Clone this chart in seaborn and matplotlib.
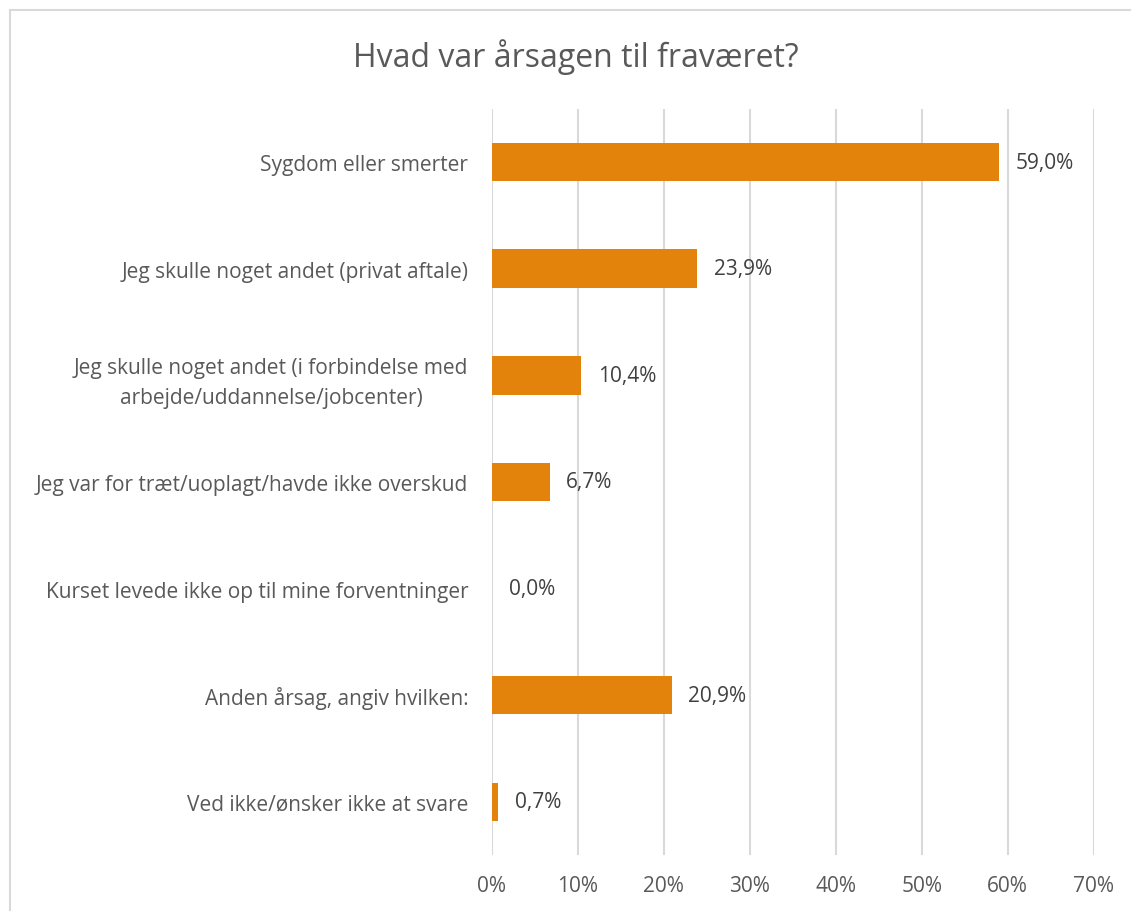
import matplotlib
matplotlib.use("Agg")
import matplotlib.pyplot as plt
import seaborn as sns
import pandas as pd
from matplotlib.patches import Rectangle

categories = [
    "Sygdom eller smerter",
    "Jeg skulle noget andet (privat aftale)",
    "Jeg skulle noget andet (i forbindelse med\narbejde/uddannelse/jobcenter)",
    "Jeg var for træt/uoplagt/havde ikke overskud",
    "Kurset levede ikke op til mine forventninger",
    "Anden årsag, angiv hvilken:",
    "Ved ikke/ønsker ikke at svare",
]
values = [59.0, 23.9, 10.4, 6.7, 0.0, 20.9, 0.7]
ticks = [0, 10, 20, 30, 40, 50, 60, 70]
title = "Hvad var årsagen til fraværet?"

sns.set_theme(style="white")
plt.rcParams["font.family"] = ["Open Sans", "DejaVu Sans"]
text_color = "#595959"
fs = 15

df = pd.DataFrame({"cat": categories, "val": values})

fig = plt.figure(figsize=(11.31, 9.12), dpi=100)
ax = fig.add_axes([0.435, 0.0611, 0.967 - 0.435, 0.8797 - 0.0611])

sns.barplot(data=df, x="val", y="cat", color="#E3830C", saturation=1,
            width=0.36, ax=ax, orient="h", linewidth=0)

ax.set_xlim(0, 70)
ax.set_xticks(ticks)
ax.set_xticklabels([f"{t}%" for t in ticks], fontsize=fs, color=text_color)
ax.tick_params(axis="x", length=0, pad=14)
ax.tick_params(axis="y", length=0, pad=17)
for lbl in ax.get_yticklabels():
    lbl.set_fontsize(fs)
    lbl.set_color(text_color)
    lbl.set_multialignment("center")
    lbl.set_linespacing(1.55)
ax.set_xlabel("")
ax.set_ylabel("")
for s in ax.spines.values():
    s.set_visible(False)
ax.grid(axis="x", color="#d9d9d9", linewidth=1.5)
ax.set_axisbelow(True)

for i, v in enumerate(values):
    ax.annotate(f"{v:.1f}%".replace(".", ","), xy=(v, i), xytext=(12, 0),
                textcoords="offset points", va="center", ha="left",
                fontsize=fs, color="#404040")

fig.text(576 / 1131, 1 - 57 / 912, title, ha="center", va="center",
         fontsize=23, color=text_color)

fig.patches.append(Rectangle((10 / 1131, -0.1), 1.2, 1 - 11 / 912 + 0.1,
                             transform=fig.transFigure, fill=False,
                             edgecolor="#d9d9d9", linewidth=1.5))

fig.savefig("out.png", dpi=100)
